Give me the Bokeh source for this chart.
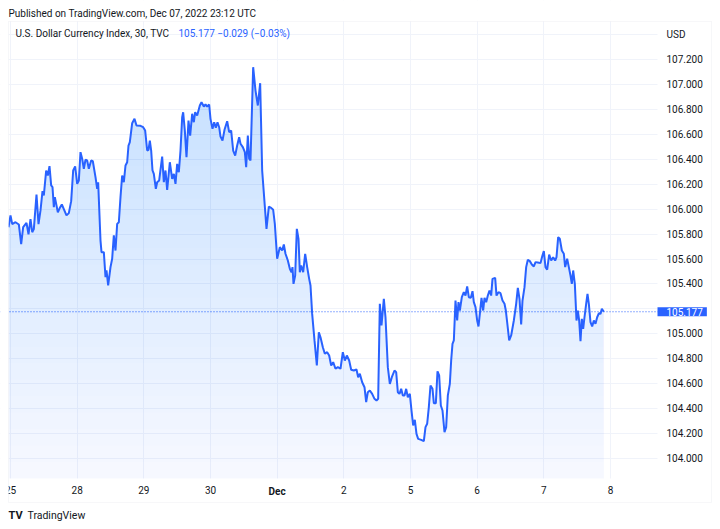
import numpy as np
from bokeh.plotting import figure
from bokeh.models import Label, Span, FixedTicker, NumeralTickFormatter, BoxAnnotation
from bokeh.embed import file_html
from bokeh.resources import INLINE

# ---- data (30-min DXY, trading-day axis: 0 = Nov 25) ----
t_day = [-0.03, 0.00, 0.026, 0.075, 0.125, 0.16, 0.19, 0.24, 0.27, 0.30, 0.326, 0.35, 0.39, 0.42, 0.45, 0.48, 0.50,
         0.535, 0.56, 0.585, 0.61, 0.63, 0.65, 0.665, 0.71, 0.74, 0.77, 0.80, 0.84, 0.875, 0.91, 0.94, 0.97, 1.00,
         1.025, 1.05, 1.075, 1.10, 1.125, 1.15, 1.175, 1.21, 1.235, 1.275, 1.30, 1.315, 1.35, 1.365, 1.40, 1.425,
         1.44, 1.465, 1.50, 1.525, 1.55, 1.575, 1.60, 1.625, 1.65, 1.675, 1.70, 1.725, 1.75, 1.77, 1.79, 1.825,
         1.86, 1.89, 1.95, 1.99, 2.02, 2.05, 2.07, 2.09, 2.11, 2.13, 2.15, 2.18, 2.20, 2.23, 2.275, 2.30, 2.325,
         2.35, 2.39, 2.425, 2.45, 2.475, 2.50, 2.525, 2.55, 2.575, 2.59, 2.615, 2.64, 2.67, 2.695, 2.725, 2.75,
         2.77, 2.80, 2.84, 2.865, 2.90, 2.925, 2.95, 2.98, 3.00, 3.03, 3.055, 3.08, 3.105, 3.13, 3.15, 3.18, 3.21,
         3.25, 3.28, 3.31, 3.34, 3.37, 3.40, 3.43, 3.45, 3.485, 3.515, 3.535, 3.56, 3.58, 3.60, 3.64, 3.675, 3.71,
         3.745, 3.775, 3.84, 3.875, 3.91, 3.94, 3.965, 4.00, 4.04, 4.075, 4.10, 4.125, 4.16, 4.19, 4.215, 4.23,
         4.245, 4.27, 4.295, 4.32, 4.34, 4.36, 4.39, 4.42, 4.45, 4.48, 4.50, 4.525, 4.56, 4.595, 4.625, 4.65,
         4.685, 4.715, 4.75, 4.78, 4.81, 4.84, 4.875, 4.91, 4.95, 4.985, 5.015, 5.045, 5.08, 5.11, 5.15, 5.19,
         5.215, 5.24, 5.275, 5.31, 5.335, 5.36, 5.39, 5.425, 5.46, 5.49, 5.515, 5.54, 5.565, 5.60, 5.625, 5.66,
         5.69, 5.72, 5.76, 5.785, 5.81, 5.835, 5.86, 5.885, 5.91, 5.935, 5.96, 5.99, 6.015, 6.04, 6.065, 6.09,
         6.115, 6.16, 6.20, 6.225, 6.25, 6.275, 6.30, 6.33, 6.35, 6.38, 6.405, 6.43, 6.455, 6.48, 6.51, 6.535,
         6.56, 6.59, 6.61, 6.63, 6.65, 6.675, 6.70, 6.72, 6.74, 6.77, 6.80, 6.825, 6.85, 6.875, 6.905, 6.93,
         6.95, 6.975, 7.00, 7.02, 7.04, 7.065, 7.09, 7.11, 7.135, 7.16, 7.185, 7.21, 7.23, 7.27, 7.29, 7.32,
         7.35, 7.38, 7.41, 7.43, 7.45, 7.48, 7.51, 7.55, 7.585, 7.61, 7.635, 7.66, 7.68, 7.71, 7.735, 7.76,
         7.79, 7.82, 7.85, 7.875, 7.91, 7.95, 7.975, 8.00, 8.025, 8.05, 8.08, 8.11, 8.14, 8.17, 8.19, 8.215,
         8.24, 8.27, 8.30, 8.32, 8.35, 8.375, 8.40, 8.42, 8.44, 8.465, 8.49, 8.51, 8.53, 8.55, 8.57, 8.59, 8.61,
         8.635, 8.655, 8.675, 8.70, 8.725, 8.75, 8.775, 8.80, 8.825, 8.85, 8.87, 8.90]

price = [105.855, 105.950, 105.880, 105.895, 105.877, 105.720, 105.855, 105.890, 105.797, 105.920, 105.815, 105.840,
         106.117, 105.880, 105.990, 106.144, 106.110, 106.310, 106.270, 106.345, 106.190, 106.176, 106.016, 106.096,
         105.975, 106.010, 106.037, 106.000, 105.950, 105.968, 106.064, 106.310, 106.342, 106.203, 106.230, 106.457,
         106.404, 106.324, 106.396, 106.390, 106.324, 106.390, 106.384, 106.256, 106.163, 106.216, 105.748, 105.655,
         105.655, 105.455, 105.510, 105.388, 105.535, 105.602, 105.790, 105.668, 105.882, 105.895, 106.096, 106.270,
         106.216, 106.350, 106.376, 106.510, 106.537, 106.689, 106.724, 106.670, 106.668, 106.657, 106.630, 106.470,
         106.476, 106.550, 106.470, 106.310, 106.283, 106.163, 106.216, 106.230, 106.422, 106.216, 106.310, 106.155,
         106.376, 106.243, 106.283, 106.203, 106.363, 106.296, 106.470, 106.737, 106.777, 106.630, 106.416, 106.710,
         106.590, 106.765, 106.697, 106.777, 106.750, 106.831, 106.857, 106.823, 106.839, 106.823, 106.839, 106.724,
         106.644, 106.697, 106.652, 106.697, 106.657, 106.582, 106.550, 106.636, 106.705, 106.617, 106.630, 106.470,
         106.430, 106.510, 106.577, 106.524, 106.497, 106.457, 106.336, 106.590, 106.404, 106.390, 107.138, 106.951,
         106.831, 107.010, 106.310, 105.842, 106.020, 106.010, 105.995, 105.882, 105.602, 105.695, 105.668, 105.716,
         105.642, 105.588, 105.522, 105.494, 105.535, 105.401, 105.468, 105.842, 105.762, 105.494, 105.548, 105.494,
         105.642, 105.535, 105.441, 105.388, 105.160, 104.947, 104.746, 105.013, 104.973, 104.893, 104.840, 104.853,
         104.826, 104.746, 104.773, 104.720, 104.733, 104.720, 104.853, 104.786, 104.826, 104.786, 104.712, 104.706,
         104.714, 104.652, 104.680, 104.612, 104.572, 104.452, 104.532, 104.546, 104.519, 104.479, 104.465, 104.479,
         105.241, 105.067, 105.281, 105.133, 104.733, 104.599, 104.652, 104.706, 104.693, 104.532, 104.519, 104.559,
         104.506, 104.506, 104.559, 104.492, 104.519, 104.385, 104.265, 104.310, 104.198, 104.158, 104.150, 104.139,
         104.252, 104.279, 104.412, 104.586, 104.559, 104.444, 104.444, 104.700, 104.666, 104.425, 104.385, 104.211,
         104.252, 104.506, 104.599, 104.786, 104.920, 104.947, 105.267, 105.107, 105.254, 105.187, 105.294, 105.334,
         105.307, 105.380, 105.294, 105.289, 105.342, 105.254, 105.214, 105.107, 105.059, 105.160, 105.289, 105.187,
         105.289, 105.254, 105.307, 105.348, 105.307, 105.441, 105.449, 105.307, 105.334, 105.326, 105.267, 105.241,
         105.187, 105.093, 104.947, 104.987, 105.107, 105.241, 105.369, 105.281, 105.075, 105.267, 105.374, 105.535,
         105.594, 105.583, 105.556, 105.540, 105.575, 105.572, 105.567, 105.620, 105.663, 105.535, 105.514, 105.636,
         105.588, 105.615, 105.588, 105.615, 105.775, 105.762, 105.668, 105.642, 105.535, 105.602, 105.535, 105.468,
         105.401, 105.508, 105.401, 105.107, 105.187, 105.107, 104.941, 105.120, 105.040, 105.133, 105.241, 105.321,
         105.241, 105.093, 105.059, 105.107, 105.080, 105.133, 105.165, 105.160, 105.201, 105.177]

x_tick_pos = [0, 1, 2, 3, 4, 5, 6, 7, 8, 9]
x_tick_labels = ["25", "28", "29", "30", "Dec", "2", "5", "6", "7", "8"]
y_ticks = [104.0, 104.2, 104.4, 104.6, 104.8, 105.0, 105.2, 105.4, 105.6, 105.8,
           106.0, 106.2, 106.4, 106.6, 106.8, 107.0, 107.2, 107.4]
last_price = 105.177
change_text = "\u22120.029 (\u22120.03%)"
title_text = "Published on TradingView.com, Dec 07, 2022 23:12 UTC"
legend_text = "U.S. Dollar Currency Index, 30, TVC"
brand_text = "TradingView"

# ---- styling ----
BLUE = "#2962FF"
INK = "#131722"
GRID = "#f0f3fa"
BORDER = "#e0e3eb"
FONT = "Roboto"

# the frame is the whole canvas; chart box and price pane are regions inside it
FX0, FX1 = -0.15, 10.65         # canvas x extent (trading days)
FY0, FY1 = 103.431, 107.673     # canvas y extent (price)
BX0, BX1 = -0.03, 10.515        # chart box (outer border)
BY0, BY1 = 103.648, 107.505
XP = 9.705                      # right edge of the price pane
YP = 103.84                     # bottom edge of the price pane
Y_TIME = 103.736                # time-scale label row
Y_HEAD = 107.569                # header row
Y_LEG = 107.405                 # legend row
Y_FOOT = 103.543                # footer row

p = figure(width=720, height=529, x_range=(FX0, FX1), y_range=(FY0, FY1),
           y_axis_location="right", output_backend="svg", toolbar_location=None,
           min_border_left=0, min_border_right=0, min_border_top=0, min_border_bottom=0)
p.outline_line_color = None
p.background_fill_color = "white"
p.border_fill_color = "white"

# grids
p.xgrid.ticker = FixedTicker(ticks=x_tick_pos)
p.ygrid.ticker = FixedTicker(ticks=y_ticks)
p.xgrid.grid_line_color = GRID
p.ygrid.grid_line_color = GRID

# last-price dotted line (under the blank strips so it stays inside the pane)
p.add_layout(Span(location=last_price, dimension="width", line_color=BLUE,
                  line_dash="1 2", line_width=1, level="underlay"))

# blank strips outside the price pane
for kw in (dict(left=XP), dict(top=YP), dict(bottom=BY1), dict(right=BX0)):
    p.add_layout(BoxAnnotation(fill_color="white", fill_alpha=1, line_color=None, level="underlay", **kw))

# gradient area fill: stacked translucent layers
t = np.array(t_day)
v = np.array(price)
p.varea(x=t, y1=YP, y2=v, fill_color=BLUE, fill_alpha=0.045)
N = 24
a = 1 - (0.77 / 0.955) ** (1.0 / N)
for L in np.linspace(YP, v.max(), N + 2)[1:-1]:
    p.varea(x=t, y1=np.minimum(L, v), y2=v, fill_color=BLUE, fill_alpha=a)

p.line(t, v, line_color=BLUE, line_width=2)

# price scale (labels inside the canvas frame, right of the pane)
ya = p.yaxis[0]
ya.ticker = FixedTicker(ticks=y_ticks)
ya.formatter = NumeralTickFormatter(format="0.000")
ya.major_label_overrides = {107.4: "USD", 105.2: ""}   # 105.200 hidden behind the last-price tag
ya.axis_line_color = None
ya.major_tick_line_color = None
ya.minor_tick_line_color = None
ya.major_tick_out = 0
ya.major_tick_in = 0
ya.major_label_standoff = -54
ya.major_label_text_font = FONT
ya.major_label_text_font_size = "10px"
ya.major_label_text_color = INK

# time scale (labels inside the canvas frame, below the pane)
xa = p.xaxis[0]
xa.ticker = FixedTicker(ticks=x_tick_pos)
xa.major_label_overrides = {i: (lab if lab != "Dec" else "") for i, lab in zip(x_tick_pos, x_tick_labels)}
xa.axis_line_color = None
xa.major_tick_line_color = None
xa.minor_tick_line_color = None
xa.major_tick_out = 0
xa.major_tick_in = 0
xa.major_label_standoff = -44
xa.major_label_text_font = FONT
xa.major_label_text_font_size = "10px"
xa.major_label_text_color = INK

# clip the time labels at the chart box's left edge
p.add_layout(BoxAnnotation(right=BX0, fill_color="white", fill_alpha=1, line_color=None, level="annotation"))
# chart box border
p.add_layout(BoxAnnotation(left=BX0, right=BX1, bottom=BY0, top=BY1, fill_color=None,
                           line_color=BORDER, line_width=1, level="annotation"))

for pos, lab in zip(x_tick_pos, x_tick_labels):
    if lab == "Dec":
        p.add_layout(Label(x=pos, y=Y_TIME, text=lab, text_align="center", text_baseline="middle",
                           text_font=FONT, text_font_size="10px", text_font_style="bold", text_color=INK))

# last-price tag on the scale
p.add_layout(Label(x=XP, y=last_price, text=f"{last_price:.3f}", text_align="left", text_baseline="middle",
                   text_font=FONT, text_font_size="10px", text_color="white",
                   background_fill_color=BLUE, padding=dict(left=9, right=4, top=1, bottom=0)))

# legend line inside the pane
p.add_layout(Label(x=0.075, y=Y_LEG, text=legend_text, text_align="left", text_baseline="middle",
                   text_font=FONT, text_font_size="10px", text_color=INK))
p.add_layout(Label(x=2.52, y=Y_LEG, text=f"{last_price:.3f}  {change_text}", text_align="left",
                   text_baseline="middle", text_font=FONT, text_font_size="10px", text_color=BLUE))

# header and footer
p.add_layout(Label(x=BX0, y=Y_HEAD, text=title_text, text_align="left", text_baseline="middle",
                   text_font=FONT, text_font_size="10px", text_color=INK))
p.add_layout(Label(x=BX0, y=Y_FOOT, text="TV", text_align="left", text_baseline="middle",
                   text_font=FONT, text_font_size="11px", text_font_style="bold", text_color=INK))
p.add_layout(Label(x=0.255, y=Y_FOOT, text=brand_text, text_align="left", text_baseline="middle",
                   text_font=FONT, text_font_size="10.5px", text_color=INK))

open("out.html", "w").write(file_html(p, INLINE))
